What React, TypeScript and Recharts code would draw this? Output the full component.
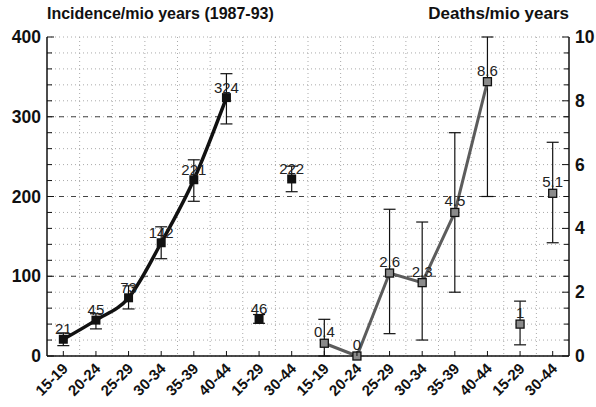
import {
  CartesianGrid,
  ComposedChart,
  ErrorBar,
  LabelList,
  Line,
  ReferenceLine,
  XAxis,
  YAxis,
} from "recharts";

// age groups, repeated once for incidence and once for deaths
const ageGroups = ["15-19", "20-24", "25-29", "30-34", "35-39", "40-44"];
const pooledGroups = ["15-29", "30-44"];

// incidence per million years (left axis), with 95% CI bounds
const incidenceAge = [21, 45, 73, 142, 221, 324];
const incidenceAgeLow = [13, 34, 59, 122, 194, 291];
const incidenceAgeHigh = [29, 53, 88, 162, 246, 354];
const incidencePooled = [46, 222];
const incidencePooledLow = [41, 206];
const incidencePooledHigh = [52, 238];

// deaths per million years (right axis)
const deathsAge = [0.4, 0, 2.6, 2.3, 4.5, 8.6];
const deathsAgeLow = [0, 0, 0.7, 0.5, 2.0, 5.0];
const deathsAgeHigh = [1.15, 0, 4.6, 4.2, 7.0, 10];
const deathsPooled = [1, 5.1];
const deathsPooledLow = [0.35, 3.55];
const deathsPooledHigh = [1.72, 6.7];

const leftTicks = Array.from({ length: 21 }, (_, i) => i * 20);
const leftMajors = [100, 200, 300];
const rightTicks = Array.from({ length: 21 }, (_, i) => i * 0.5);

const xLabels = [...ageGroups, ...pooledGroups, ...ageGroups, ...pooledGroups];

const FONT = "'Liberation Sans', Arial, sans-serif";

function err(v: number, lo: number, hi: number) {
  if (lo === hi) return undefined;
  return [v - lo, hi - v];
}

const rows = xLabels.map((cat, idx) => {
  const row: Record<string, unknown> = { idx, cat };
  if (idx < 6) {
    row.inc = incidenceAge[idx];
    row.incErr = err(incidenceAge[idx], incidenceAgeLow[idx], incidenceAgeHigh[idx]);
  } else if (idx < 8) {
    const k = idx - 6;
    row.incP = incidencePooled[k];
    row.incPErr = err(incidencePooled[k], incidencePooledLow[k], incidencePooledHigh[k]);
  } else if (idx < 14) {
    const k = idx - 8;
    row.dth = deathsAge[k];
    row.dthErr = err(deathsAge[k], deathsAgeLow[k], deathsAgeHigh[k]);
  } else {
    const k = idx - 14;
    row.dthP = deathsPooled[k];
    row.dthPErr = err(deathsPooled[k], deathsPooledLow[k], deathsPooledHigh[k]);
  }
  return row;
});

const BlackSquare = (p: any) => {
  if (p.value == null || p.cx == null) return <g key={p.index} />;
  return <rect key={p.index} x={p.cx - 4.5} y={p.cy - 4.5} width={9} height={9} fill="#111" />;
};

const GraySquare = (p: any) => {
  if (p.value == null || p.cx == null) return <g key={p.index} />;
  return (
    <rect
      key={p.index}
      x={p.cx - 4}
      y={p.cy - 4}
      width={8}
      height={8}
      fill="#8a8a8a"
      stroke="#111"
      strokeWidth={1.3}
    />
  );
};

const LeftTick = (p: any) => {
  const v = p.payload.value;
  const axisX = p.x + 8;
  const major = v % 100 === 0;
  return (
    <g>
      <line x1={axisX} x2={axisX + (major ? 7 : 5)} y1={p.y} y2={p.y} stroke="#111" strokeWidth={1} />
      {major && (
        <text x={axisX - 6} y={p.y} dy={6} textAnchor="end" fontSize={17.5} fontWeight="bold" fontFamily={FONT} fill="#111">
          {v}
        </text>
      )}
    </g>
  );
};

const RightTick = (p: any) => {
  const v = p.payload.value;
  const axisX = p.x - 8;
  const major = v % 2 === 0;
  return (
    <g>
      <line x1={axisX} x2={axisX - (major ? 7 : 5)} y1={p.y} y2={p.y} stroke="#111" strokeWidth={1} />
      {major && (
        <text x={axisX + 6} y={p.y} dy={6} textAnchor="start" fontSize={17.5} fontWeight="bold" fontFamily={FONT} fill="#111">
          {v}
        </text>
      )}
    </g>
  );
};

const BottomTick = (p: any) => {
  const axisY = p.y - 4;
  return (
    <g>
      <line x1={p.x} x2={p.x} y1={axisY} y2={axisY - 5} stroke="#111" strokeWidth={1} />
      <g transform={`translate(${p.x + 2},${axisY + 10})`}>
        <text transform="rotate(-45)" textAnchor="end" dy={5} fontSize={15} fontWeight="bold" fontFamily={FONT} fill="#111">
          {xLabels[p.payload.value]}
        </text>
      </g>
    </g>
  );
};

const labelStyle = { fontSize: 15, fontFamily: FONT, fill: "#222" };

export default function App() {
  return (
    <div style={{ position: "absolute", left: 0, top: 0, width: 596, height: 407, background: "#fff", fontFamily: FONT }}>
      <div style={{ position: "absolute", left: 47, top: 5, fontSize: 16, fontWeight: "bold", color: "#111", whiteSpace: "nowrap" }}>
        Incidence/mio years (1987-93)
      </div>
      <div style={{ position: "absolute", right: 27, top: 4, fontSize: 17, fontWeight: "bold", color: "#111", whiteSpace: "nowrap" }}>
        Deaths/mio years
      </div>
      <ComposedChart width={596} height={407} data={rows} margin={{ top: 37, right: 0, bottom: 0, left: 0 }}>
        <CartesianGrid
          yAxisId="left"
          stroke="#aaa"
          strokeDasharray="1 3"
          verticalCoordinatesGenerator={({ offset }: any) =>
            Array.from({ length: 15 }, (_, i) => offset.left + ((i + 1) * offset.width) / 16)
          }
        />
        {leftMajors.map((v) => (
          <ReferenceLine key={v} yAxisId="left" y={v} stroke="#444" strokeDasharray="5 7" />
        ))}
        <XAxis
          dataKey="idx"
          type="category"
          scale="band"
          height={51}
          interval={0}
          tickSize={0}
          tickMargin={4}
          tick={<BottomTick />}
          axisLine={{ stroke: "#111", strokeWidth: 1.5 }}
        />
        <XAxis xAxisId="top" dataKey="idx" orientation="top" height={0} tick={false} tickLine={false} axisLine={{ stroke: "#111", strokeWidth: 1.5 }} />
        <YAxis
          yAxisId="left"
          width={47}
          domain={[0, 400]}
          ticks={leftTicks}
          interval={0}
          tickSize={0}
          tickMargin={8}
          tick={<LeftTick />}
          axisLine={{ stroke: "#111", strokeWidth: 1.5 }}
        />
        <YAxis
          yAxisId="right"
          orientation="right"
          width={27}
          domain={[0, 10]}
          ticks={rightTicks}
          interval={0}
          tickSize={0}
          tickMargin={8}
          tick={<RightTick />}
          axisLine={{ stroke: "#111", strokeWidth: 1.5 }}
        />

        <Line
          yAxisId="left"
          dataKey="inc"
          type="monotone"
          stroke="#111"
          strokeWidth={3.5}
          dot={BlackSquare}
          activeDot={false}
          isAnimationActive={false}
        >
          <ErrorBar dataKey="incErr" width={6} stroke="#111" strokeWidth={1.2} />
          <LabelList dataKey="inc" position="top" offset={5} style={labelStyle} />
        </Line>
        <Line
          yAxisId="left"
          dataKey="incP"
          stroke="none"
          dot={BlackSquare}
          activeDot={false}
          isAnimationActive={false}
        >
          <ErrorBar dataKey="incPErr" width={6} stroke="#111" strokeWidth={1.2} />
          <LabelList dataKey="incP" position="top" offset={5} style={labelStyle} />
        </Line>
        <Line
          yAxisId="right"
          dataKey="dth"
          type="linear"
          stroke="#5c5c5c"
          strokeWidth={3}
          dot={GraySquare}
          activeDot={false}
          isAnimationActive={false}
        >
          <ErrorBar dataKey="dthErr" width={6} stroke="#111" strokeWidth={1.2} />
          <LabelList dataKey="dth" position="top" offset={6} style={labelStyle} />
        </Line>
        <Line
          yAxisId="right"
          dataKey="dthP"
          stroke="none"
          dot={GraySquare}
          activeDot={false}
          isAnimationActive={false}
        >
          <ErrorBar dataKey="dthPErr" width={6} stroke="#111" strokeWidth={1.2} />
          <LabelList dataKey="dthP" position="top" offset={6} style={labelStyle} />
        </Line>
      </ComposedChart>
    </div>
  );
}
